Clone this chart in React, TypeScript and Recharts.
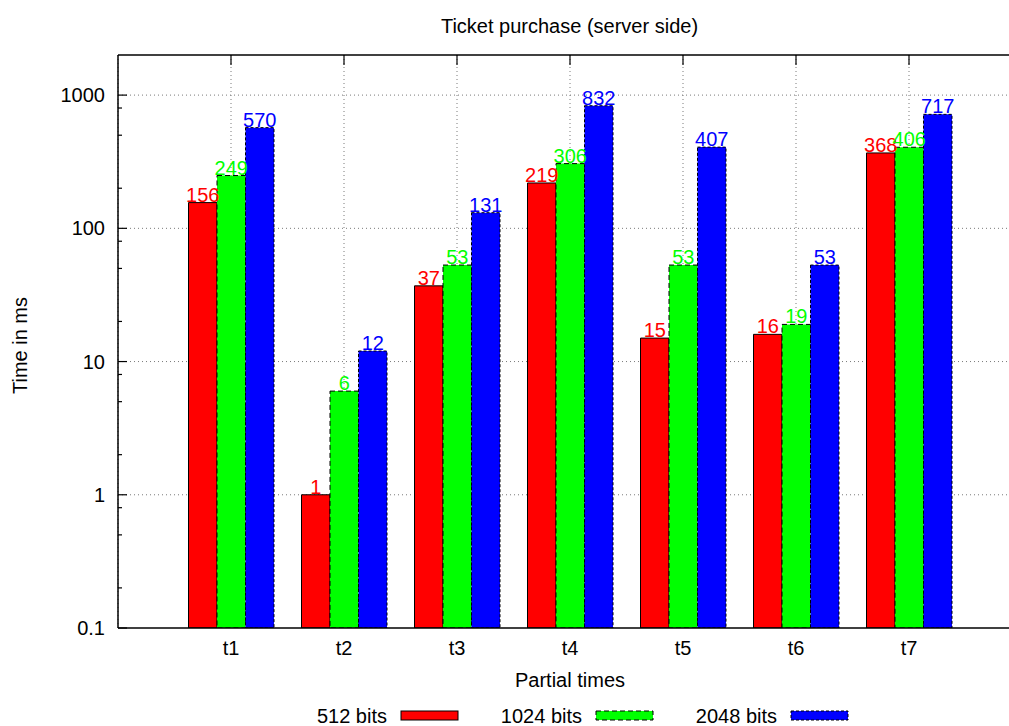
import React from 'react';
import { BarChart, Bar, XAxis, YAxis, CartesianGrid, LabelList, Label } from 'recharts';

const FONT = '"Liberation Sans", Arial, Helvetica, sans-serif';

const categories = ['t1', 't2', 't3', 't4', 't5', 't6', 't7'];
const bits512 = [156, 1, 37, 219, 15, 16, 368];
const bits1024 = [249, 6, 53, 306, 53, 19, 406];
const bits2048 = [570, 12, 131, 832, 407, 53, 717];

const majorTicks = [0.1, 1, 10, 100, 1000];
const minorSteps = [2, 5, 8];
const gridValues = [1, 10, 100, 1000];

const series = [
  { key: 'b512', name: '512 bits', color: '#ff0000', dash: undefined as string | undefined },
  { key: 'b1024', name: '1024 bits', color: '#00ff00', dash: '5 3' },
  { key: 'b2048', name: '2048 bits', color: '#0000ff', dash: '3 2' },
];

const data = categories.map((name, i) => ({
  name,
  b512: bits512[i],
  b1024: bits1024[i],
  b2048: bits2048[i],
}));

// major decades plus gnuplot-style minor tics inside each decade
const yTicks = [
  ...majorTicks,
  ...majorTicks.slice(0, 4).flatMap((d) => minorSteps.map((s) => +(d * s).toFixed(4))),
].sort((a, b) => a - b);

const isMajor = (v: number) => majorTicks.some((m) => Math.abs(m - v) < 1e-9);

const YTick = (props: any) => {
  const { x, y, payload } = props;
  const v = payload.value as number;
  const major = isMajor(v);
  const axisX = x + 13;
  return (
    <g>
      <line x1={axisX} x2={axisX + (major ? 9 : 4)} y1={y} y2={y} stroke="#000" strokeWidth={1.2} />
      {major && (
        <text x={x} y={y} dy={7} textAnchor="end" fontSize={20} fill="#000">
          {v < 1 ? '0.1' : String(v)}
        </text>
      )}
    </g>
  );
};

const NoTick = () => <g />;

const YLabel = (props: any) => {
  const vb = props.viewBox;
  const cx = vb.x + 27;
  const cy = vb.y + vb.height / 2 + 4;
  return (
    <text x={cx} y={cy} transform={`rotate(-90 ${cx} ${cy})`} textAnchor="middle" fontSize={20} fill="#000">
      Time in ms
    </text>
  );
};

const XLabel = (props: any) => {
  const vb = props.viewBox;
  return (
    <text x={vb.x + vb.width / 2} y={vb.y + 59} textAnchor="middle" fontSize={20} fill="#000">
      Partial times
    </text>
  );
};

export default function App() {
  return (
    <div
      style={{
        position: 'absolute',
        left: 0,
        top: 0,
        width: 1009,
        height: 726,
        overflow: 'hidden',
        background: '#fff',
        fontFamily: FONT,
      }}
    >
      <div
        style={{
          position: 'absolute',
          left: 569.5,
          top: 16,
          transform: 'translateX(-50%)',
          fontSize: 20,
          lineHeight: '20px',
          whiteSpace: 'nowrap',
          color: '#000',
        }}
      >
        Ticket purchase (server side)
      </div>

      <BarChart
        width={1024}
        height={726}
        data={data}
        margin={{ top: 55, right: 2, left: 0, bottom: 0 }}
        barGap={0}
        barSize={28.5}
      >
        <CartesianGrid
          stroke="#7a7a7a"
          strokeDasharray="1 3"
          horizontalValues={gridValues}
        />
        <XAxis
          dataKey="name"
          height={98}
          padding={{ left: 56.5, right: 56.5 }}
          tickLine={false}
          tickSize={0}
          tickMargin={13}
          axisLine={{ stroke: '#000', strokeWidth: 1.5 }}
          tick={{ fill: '#000', fontSize: 20 }}
          interval={0}
        >
          <Label content={XLabel} />
        </XAxis>
        <XAxis
          xAxisId="top"
          orientation="top"
          dataKey="name"
          height={1}
          mirror
          padding={{ left: 56.5, right: 56.5 }}
          tickSize={10}
          tickLine={{ stroke: '#000', strokeWidth: 1.2 }}
          axisLine={{ stroke: '#000', strokeWidth: 1.5 }}
          tick={NoTick}
          interval={0}
        />
        <YAxis
          type="number"
          scale="log"
          domain={[0.1, 2000]}
          allowDataOverflow
          ticks={yTicks}
          interval={0}
          width={118}
          tickLine={false}
          tickSize={0}
          tickMargin={13}
          axisLine={{ stroke: '#000', strokeWidth: 1.5 }}
          tick={YTick}
        >
          <Label content={YLabel} />
        </YAxis>
        {series.map((s) => (
          <Bar
            key={s.key}
            dataKey={s.key}
            name={s.name}
            fill={s.color}
            stroke="#000"
            strokeWidth={1}
            strokeDasharray={s.dash}
            isAnimationActive={false}
          >
            <LabelList dataKey={s.key} position="top" offset={1} fill={s.color} fontSize={20} />
          </Bar>
        ))}
      </BarChart>

      {series.map((s, i) => {
        const textRight = 387 + 195 * i;
        return (
          <React.Fragment key={s.key}>
            <div
              style={{
                position: 'absolute',
                left: textRight - 150,
                width: 150,
                top: 706,
                textAlign: 'right',
                fontSize: 20,
                lineHeight: '20px',
                color: '#000',
                whiteSpace: 'nowrap',
              }}
            >
              {s.name}
            </div>
            <svg
              width={60}
              height={12}
              style={{ position: 'absolute', left: textRight + 13, top: 710 }}
            >
              <rect
                x={1}
                y={1}
                width={57}
                height={9}
                fill={s.color}
                stroke="#000"
                strokeWidth={1}
                strokeDasharray={s.dash}
              />
            </svg>
          </React.Fragment>
        );
      })}
    </div>
  );
}
